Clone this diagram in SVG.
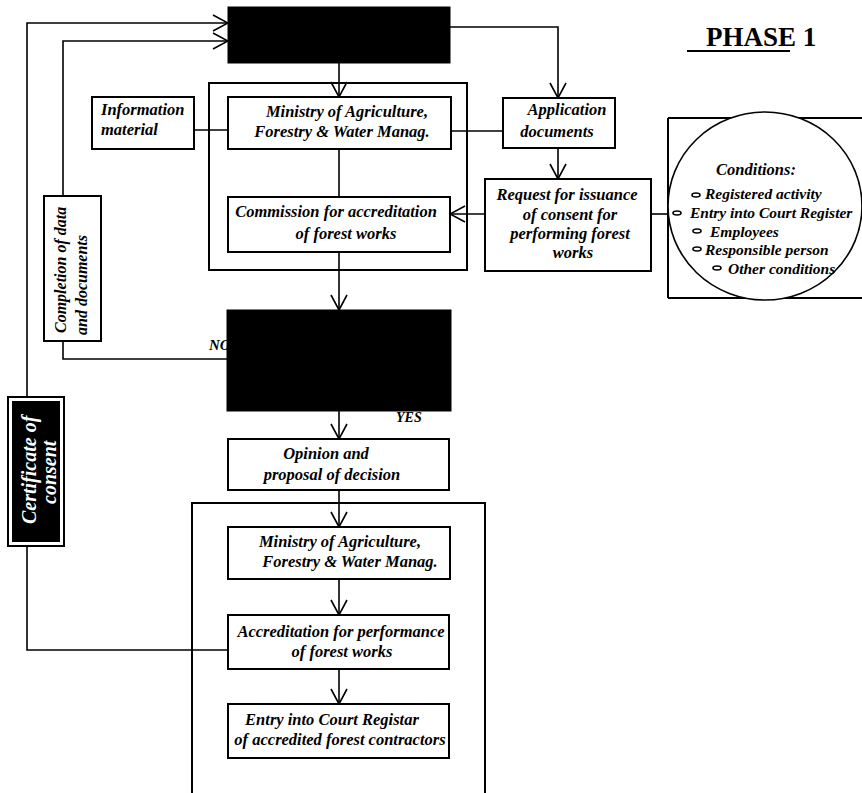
<svg xmlns="http://www.w3.org/2000/svg" width="862" height="793" viewBox="0 0 862 793">
<style>
.box{fill:#fff;stroke:#000;stroke-width:2}
.frame{fill:none;stroke:#000;stroke-width:2}
.dark{fill:#000;stroke:#000;stroke-width:1}
.ln{fill:none;stroke:#000;stroke-width:1.6}
.t{font-family:"Liberation Serif","Times New Roman",serif;font-weight:bold;font-style:italic;font-size:16.5px;fill:#000}
.s{font-size:15.5px}
.c{text-anchor:middle}
.bul{fill:#fff;stroke:#000;stroke-width:1.6}
</style>
<defs>
<marker id="v" viewBox="-1 -9 17 18" markerUnits="userSpaceOnUse" markerWidth="17" markerHeight="18" refX="15" refY="0" orient="auto">
<path d="M0,-8 L15,0 L0,8" fill="none" stroke="#000" stroke-width="1.6"/>
</marker>
</defs>
<rect width="862" height="793" fill="#fff"/>

<g id="frames">
<rect class="frame" x="209" y="83" width="258" height="187"/>
<path class="frame" d="M192,793 V503 H485 V793"/>
</g>

<g id="connectors">
<path class="ln" d="M27,397 V23 H228" marker-end="url(#v)"/>
<path class="ln" d="M63,196 V41 H228" marker-end="url(#v)"/>
<path class="ln" d="M339,63 V97" marker-end="url(#v)"/>
<path class="ln" d="M450,27 H558 V98" marker-end="url(#v)"/>
<path class="ln" d="M194,130 H228"/>
<path class="ln" d="M451,131 H503"/>
<path class="ln" d="M558,148 V179" marker-end="url(#v)"/>
<path class="ln" d="M339,149 V197"/>
<path class="ln" d="M485,214 H450" marker-end="url(#v)"/>
<path class="ln" d="M651,214 H669"/>
<path class="ln" d="M339,252 V310" marker-end="url(#v)"/>
<path class="ln" d="M63,341 V359 H228"/>
<path class="ln" d="M339,411 V439" marker-end="url(#v)"/>
<path class="ln" d="M339,490 V527" marker-end="url(#v)"/>
<path class="ln" d="M339,579 V615" marker-end="url(#v)"/>
<path class="ln" d="M339,669 V704" marker-end="url(#v)"/>
<path class="ln" d="M27,546 V650 H228"/>
</g>

<g id="phase">
<text x="706" y="46" font-family="'Liberation Serif','Times New Roman',serif" font-weight="bold" font-size="27">PHASE 1</text>
<line x1="687" y1="51" x2="790" y2="51" stroke="#000" stroke-width="2"/>
</g>

<g id="applicant">
<rect class="dark" x="228" y="7" width="222" height="56"/>
</g>

<g id="info">
<rect class="box" x="92" y="97" width="102" height="52"/>
<text class="t" x="101" y="115">Information</text>
<text class="t" x="101" y="135">material</text>
</g>

<g id="ministry1">
<rect class="box" x="228" y="97" width="223" height="52"/>
<text class="t c" x="347" y="117">Ministry of Agriculture,</text>
<text class="t c" x="342" y="137">Forestry &amp; Water Manag.</text>
</g>

<g id="application">
<rect class="box" x="503" y="98" width="112" height="50"/>
<text class="t c" x="567" y="115">Application</text>
<text class="t c" x="557" y="137">documents</text>
</g>

<g id="commission">
<rect class="box" x="228" y="197" width="222" height="55"/>
<text class="t c" x="336" y="217">Commission for accreditation</text>
<text class="t c" x="346" y="239">of forest works</text>
</g>

<g id="request">
<rect class="box" x="485" y="179" width="166" height="92"/>
<text class="t c" x="567" y="200">Request for issuance</text>
<text class="t c" x="570" y="220">of consent for</text>
<text class="t c" x="570" y="239">performing forest</text>
<text class="t c" x="573" y="258">works</text>
</g>

<g id="conditions">
<path class="frame" d="M668,118 V298 M668,118 H862 M668,298 H862"/>
<ellipse cx="765" cy="206" rx="97" ry="94" fill="#fff" stroke="#000" stroke-width="1.6"/>
<text class="t c" x="756" y="175">Conditions:</text>
<ellipse class="bul" cx="696" cy="195" rx="4" ry="2"/>
<text class="t s" x="705" y="199">Registered activity</text>
<ellipse class="bul" cx="677" cy="213" rx="4" ry="2"/>
<text class="t s" x="690" y="218">Entry into Court Register</text>
<ellipse class="bul" cx="697" cy="231" rx="4" ry="2"/>
<text class="t s" x="710" y="237">Employees</text>
<ellipse class="bul" cx="697" cy="249" rx="4" ry="2"/>
<text class="t s" x="705" y="255">Responsible person</text>
<ellipse class="bul" cx="717" cy="268" rx="4" ry="2"/>
<text class="t s" x="728" y="274">Other conditions</text>
</g>

<g id="completion">
<rect class="box" x="44" y="196" width="57" height="145"/>
<text class="t" style="font-size:16px" transform="translate(66,333) rotate(-90)">Completion of data</text>
<text class="t" style="font-size:16px" transform="translate(87,335) rotate(-90)">and documents</text>
</g>

<g id="decision">
<text class="t" x="209" y="350" style="font-size:15px">NO</text>
<rect class="dark" x="227" y="310" width="224" height="101"/>
<text class="t" x="396" y="422" style="font-size:14px">YES</text>
</g>

<g id="certificate">
<rect x="8" y="397" width="56" height="149" fill="#fff" stroke="#000" stroke-width="2"/>
<rect x="12" y="401" width="48" height="141" fill="#000"/>
<text class="t" transform="translate(36,524) rotate(-90)" style="font-size:20px;fill:#fff">Certificate of</text>
<text class="t" transform="translate(56,504) rotate(-90)" style="font-size:20px;fill:#fff">consent</text>
</g>

<g id="opinion">
<rect class="box" x="228" y="439" width="221" height="51"/>
<text class="t c" x="326" y="459">Opinion and</text>
<text class="t c" x="332" y="480">proposal of decision</text>
</g>

<g id="ministry2">
<rect class="box" x="228" y="527" width="222" height="52"/>
<text class="t c" x="340" y="547">Ministry of Agriculture,</text>
<text class="t c" x="350" y="567">Forestry &amp; Water Manag.</text>
</g>

<g id="accreditation">
<rect class="box" x="228" y="615" width="221" height="54"/>
<text class="t c" x="341" y="637">Accreditation for performance</text>
<text class="t c" x="342" y="657">of forest works</text>
</g>

<g id="entry">
<rect class="box" x="228" y="704" width="221" height="54"/>
<text class="t c" x="332" y="725">Entry into Court Registar</text>
<text class="t c" x="340" y="745">of accredited forest contractors</text>
</g>
</svg>
